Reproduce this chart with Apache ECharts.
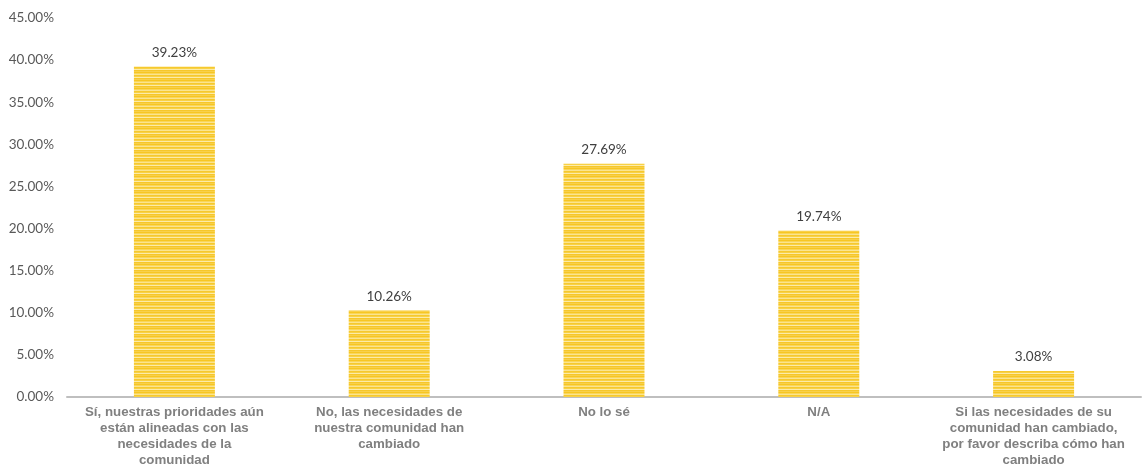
<!DOCTYPE html>
<html><head><meta charset="utf-8">
<script src="https://cdn.jsdelivr.net/npm/echarts@6/dist/echarts.min.js"></script>
<style>html,body{margin:0;padding:0;background:#fff}#c{width:1146px;height:466px}</style>
</head><body><div id="c"></div>
<script>
const categories = [
  "Sí, nuestras prioridades aún\nestán alineadas con las\nnecesidades de la\ncomunidad",
  "No, las necesidades de\nnuestra comunidad han\ncambiado",
  "No lo sé",
  "N/A",
  "Si las necesidades de su\ncomunidad han cambiado,\npor favor describa cómo han\ncambiado"
];
const values = [39.23, 10.26, 27.69, 19.74, 3.08];
const yTicks = [0, 5, 10, 15, 20, 25, 30, 35, 40, 45];

const pc = document.createElement('canvas');
pc.width = 4; pc.height = 8;
const ctx = pc.getContext('2d');
const rows = ['#F7C623','#F9D65A','#FBE48F','#F6C92E','#F8D146','#FCEBA8','#F6C72A','#F8D04A'];
rows.forEach((c,i)=>{ctx.fillStyle=c;ctx.fillRect(0,i,4,1);});

const chart = echarts.init(document.getElementById('c'), null, {renderer:'canvas'});
chart.setOption({
  animation:false,
  grid:{left:67,right:5,top:18,bottom:69,containLabel:false,outerBoundsMode:'none'},
  xAxis:{
    type:'category', data:categories,
    axisLine:{lineStyle:{color:'#BFBFBF',width:2}},
    axisTick:{show:false},
    axisLabel:{interval:0,color:'#808080',fontFamily:'Liberation Sans, Arial',fontWeight:'bold',fontSize:13.3,lineHeight:16,margin:7}
  },
  yAxis:{
    type:'value', min:yTicks[0], max:yTicks[yTicks.length-1], interval:5,
    splitLine:{show:false}, axisLine:{show:false}, axisTick:{show:false},
    axisLabel:{color:'#595959',fontFamily:'Lato, Open Sans',fontSize:13.5,margin:13,formatter:v=>v.toFixed(2)+'%'}
  },
  series:[{
    type:'bar', data:values, barWidth:'37.7%',
    itemStyle:{color:{image:pc,repeat:'repeat'}},
    label:{show:true,position:'top',distance:7,color:'#404040',fontFamily:'Lato, Open Sans',fontSize:13.5,formatter:p=>p.value.toFixed(2)+'%'}
  }]
});
</script></body></html>
